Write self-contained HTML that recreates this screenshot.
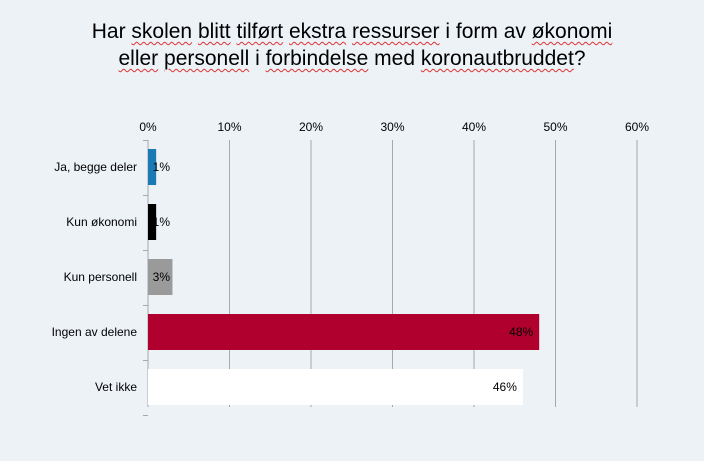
<!DOCTYPE html>
<html><head><meta charset="utf-8"><style>
html,body{margin:0;padding:0;background:#edf2f7;}
body{width:704px;height:461px;overflow:hidden;font-family:"Liberation Sans",Arial,sans-serif;}
.t{position:absolute;left:0;width:704px;text-align:center;font-size:21px;color:#000;line-height:27px;}
.t span{text-decoration:underline wavy #d33;text-decoration-thickness:1px;text-underline-offset:3px;}
</style></head><body>
<div class="t" style="top:18px">Har <span>skolen</span> <span>blitt</span> <span>tilført</span> <span>ekstra</span> <span>ressurser</span> i form av <span>økonomi</span><br><span>eller</span> <span>personell</span> i <span>forbindelse</span> med <span>koronautbruddet</span>?</div>
<svg id="c" width="704" height="461" style="position:absolute;left:0;top:0"></svg>
<script>
const categories=["Ja, begge deler","Kun økonomi","Kun personell","Ingen av delene","Vet ikke"];
const values=[1,1,3,48,46];
const valueLabels=["1%","1%","3%","48%","46%"];
const colors=["#1a7ab4","#000000","#9a9a9a","#b0002e","#ffffff"];
const ticks=[0,10,20,30,40,50,60];
const tickLabels=["0%","10%","20%","30%","40%","50%","60%"];
const NS="http://www.w3.org/2000/svg",svg=document.getElementById('c');
const x0=148,x1=637,yTop=140,yBot=415,band=55;
const X=v=>x0+(v/60)*(x1-x0);
const Y=i=>yTop+i*band;
function mk(t,a){const e=document.createElementNS(NS,t);for(const k in a)e.setAttribute(k,a[k]);svg.appendChild(e);return e;}
ticks.forEach((t,i)=>{
 const g=mk('line',{x1:X(t),x2:X(t),y1:yTop,y2:yBot-8,stroke:'#a8a8a8','stroke-width':1});
 
 
 const l=mk('text',{x:X(t),y:131,'text-anchor':'middle','font-size':12,fill:'#000'});
 l.textContent=tickLabels[i];
 
 
});
for(let i=0;i<=categories.length;i++){
 const tk=mk('line',{x1:x0-5,x2:x0,y1:Y(i)+0.5,y2:Y(i)+0.5,stroke:'#a8a8a8'});
 
 
}
categories.forEach((c,i)=>{
 const yc=Y(i)+band/2-0.5;
 const b=mk('rect',{x:x0,y:yc-18,width:X(values[i])-x0,height:36,fill:colors[i]});
 
 
 const lab=mk('text',{x:137,y:yc+4,'text-anchor':'end','font-size':12,fill:'#000'});
 lab.textContent=c;
 
 
 const v=mk('text',{x:Math.max(X(values[i])-6,170),y:yc+4,'text-anchor':'end','font-size':12,fill:'#000'});
 v.textContent=valueLabels[i];
 
 
});
</script>
</body></html>
